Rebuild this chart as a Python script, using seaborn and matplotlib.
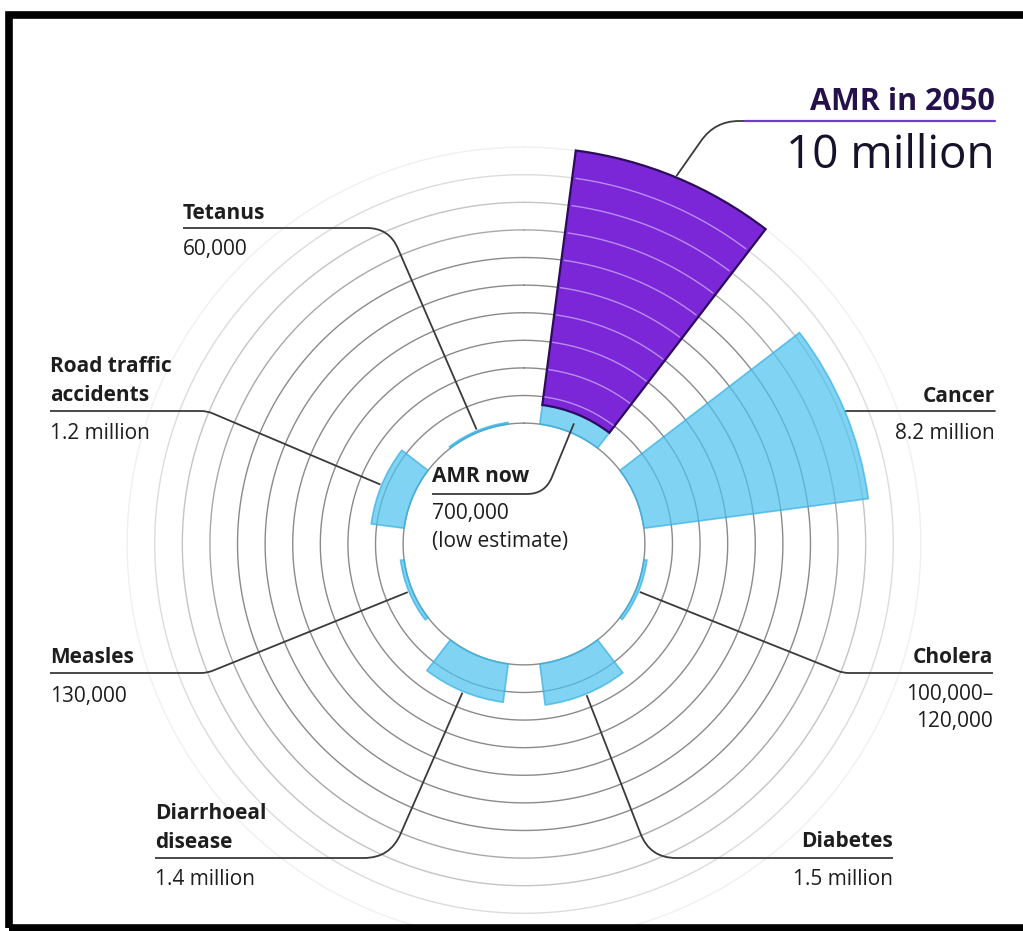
import numpy as np
import matplotlib.pyplot as plt
import seaborn as sns
from matplotlib.path import Path
from matplotlib.patches import PathPatch, Rectangle

sns.set_theme(style="white")
plt.rcParams['font.family'] = ['Open Sans', 'DejaVu Sans']

# deaths per year (millions), clockwise from the top
causes = ["AMR in 2050", "Cancer", "Cholera", "Diabetes",
          "Diarrhoeal disease", "Measles", "Road traffic accidents", "Tetanus"]
deaths = [10.0, 8.2, 0.11, 1.5, 1.4, 0.13, 1.2, 0.06]
amr_now = 0.7
name_labels = ["AMR in 2050", "Cancer", "Cholera", "Diabetes",
               "Diarrhoeal\ndisease", "Measles", "Road traffic\naccidents", "Tetanus"]
value_labels = ["10 million", "8.2 million", "100,000–\n120,000", "1.5 million",
                "1.4 million", "130,000", "1.2 million", "60,000"]
rings = np.arange(1, 11)

W, H = 1023, 931
blue = "#4fc3ee"
blue_edge = "#35b0e2"
purple = "#7b27d8"
purple_dark = "#2c0c5c"
ink = "#1e1e1e"

base = 4.38          # radius of the empty centre, in million units
rmax = 15.0
px_per = 27.6        # pixels per million
cx, cy = 524, 544    # centre of the chart in pixels (from top)
R = rmax * px_per

fig = plt.figure(figsize=(W / 100, H / 100), dpi=100)
ax = fig.add_axes([(cx - R) / W, (H - cy - R) / H, 2 * R / W, 2 * R / H], projection="polar")
ax.set_theta_zero_location("N")
ax.set_theta_direction(-1)
ax.set_ylim(0, rmax)
ax.axis("off")

angles = np.deg2rad(22.5 + 45 * np.arange(len(causes)))
width = np.deg2rad(30)

# concentric rings, fading out towards the edge
t = np.linspace(0, 2 * np.pi, 720)
ring_grey = ["#8a8a8a"] * 6 + ["#a8a8a8", "#c4c4c4", "#dcdcdc", "#f0f0f0"]
ax.plot(t, np.full_like(t, base), color="#8a8a8a", lw=1, zorder=1)
for k, c in zip(rings, ring_grey):
    ax.plot(t, np.full_like(t, base + k), color=c, lw=1, zorder=1)

# blue bars for today's causes of death
ax.bar(angles[1:], deaths[1:], width=width, bottom=base, color=blue, alpha=0.72,
       edgecolor=blue_edge, lw=1.2, zorder=2)
ax.bar(angles[0], amr_now, width=width, bottom=base, color=blue, alpha=0.72,
       edgecolor=blue_edge, lw=1.2, zorder=2)
# purple bar for AMR in 2050
ax.bar(angles[0], deaths[0] - amr_now, width=width, bottom=base + amr_now, color=purple,
       edgecolor=purple_dark, lw=1.6, zorder=3)
tp = np.linspace(angles[0] - width / 2 + 0.01, angles[0] + width / 2 - 0.01, 60)
for k in rings:
    if amr_now < k < deaths[0]:
        ax.plot(tp, np.full_like(tp, base + k), color="#c9a6f5", lw=1, alpha=0.8, zorder=4)

# overlay in pixel coordinates for labels and leader lines
ov = fig.add_axes([0, 0, 1, 1])
ov.set_xlim(0, W)
ov.set_ylim(H, 0)
ov.axis("off")


def tip(theta, r):
    p = ax.transData.transform((theta, r))
    return ov.transData.inverted().transform(p)


def leader(start, corner, end, rad=12, color="#3a3a3a", lw=1.3):
    s, c, e = np.array(start, float), np.array(corner, float), np.array(end, float)
    d1 = (c - s) / np.linalg.norm(c - s)
    d2 = (e - c) / np.linalg.norm(e - c)
    verts = [s, c - rad * d1, c, c + rad * d2, e]
    codes = [Path.MOVETO, Path.LINETO, Path.CURVE3, Path.CURVE3, Path.LINETO]
    ov.add_patch(PathPatch(Path(verts, codes), fill=False, color=color, lw=lw))


# (x, first name baseline, underline y, value baseline, align, corner x, corner radius)
layout = {
    "Cancer": (995, 402, 411, 439, "right", None, 0),
    "Cholera": (993, 663, 673, 700, "right", 843, 6),
    "Diabetes": (893, 847, 858, 885, "right", 650, 26),
    "Diarrhoeal disease": (155, 819, 858, 885, "left", 390, 26),
    "Measles": (50, 663, 673, 702, "left", 207, 6),
    "Road traffic accidents": (50, 372, 411, 439, "left", 207, 6),
    "Tetanus": (183, 219, 228, 255, "left", 389, 22),
}
line_gap = 29
fs = 15

for i, cause in enumerate(causes[1:], start=1):
    x, yn, yu, yv, ha, corner_x, rad = layout[cause]
    end = tip(angles[i], base + deaths[i] + 0.05)
    for j, txt in enumerate(name_labels[i].split("\n")):
        ov.text(x, yn + j * line_gap, txt, ha=ha, va="baseline",
                fontsize=fs, fontweight="bold", color=ink)
    for j, txt in enumerate(value_labels[i].split("\n")):
        ov.text(x, yv + j * 27, txt, ha=ha, va="baseline", fontsize=fs, color=ink)
    if corner_x is None:
        ov.plot([x, end[0]], [yu, yu], color="#3a3a3a", lw=1.3)
    else:
        leader((x, yu), (corner_x, yu), end, rad=rad)

# AMR now, inside the ring
now_end = tip(angles[0], base + amr_now / 2)
ov.text(432, 482, "AMR now", ha="left", va="baseline", fontsize=fs, fontweight="bold", color=ink)
ov.text(432, 519, "700,000", ha="left", va="baseline", fontsize=fs, color=ink)
ov.text(432, 547, "(low estimate)", ha="left", va="baseline", fontsize=fs, color=ink)
leader((432, 494), (545, 494), now_end, rad=18)

# AMR in 2050, top right
top_end = tip(angles[0], base + deaths[0] + 0.05)
leader((760, 121), (715, 121), top_end, rad=24)
ov.plot([745, 995], [121, 121], color="#6f3fc4", lw=1.6)
ov.text(995, 110, "AMR in 2050", ha="right", va="baseline", fontsize=22,
        fontweight="bold", color="#24104a")
ov.text(995, 168, "10 million", ha="right", va="baseline", fontsize=33, color="#15122a")

# black frame
fig.add_artist(Rectangle((8.5 / W, (H - 928) / H), (1035 - 8.5) / W, (928 - 15) / H,
                         transform=fig.transFigure, fill=False, ec="black", lw=5.5))

fig.savefig("out.png", dpi=100)
